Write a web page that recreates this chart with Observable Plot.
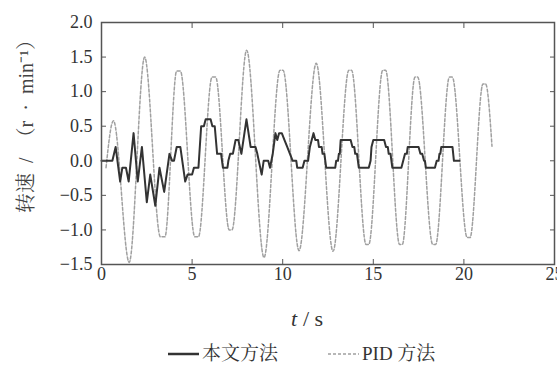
<!DOCTYPE html>
<html><head><meta charset="utf-8">
<script src="https://cdn.jsdelivr.net/npm/d3@7"></script>
<script src="https://cdn.jsdelivr.net/npm/@observablehq/plot@0.6"></script>
<style>
body{margin:0;background:#fff;}
#chart{width:557px;height:365px;font-family:"Liberation Serif","Noto Serif CJK SC",serif;color:#333;}
#chart svg text{font-family:"Liberation Serif","Noto Serif CJK SC",serif;}
#legend{position:relative;height:29px;font-size:19px;line-height:29px;color:#333;}
#legend .item{position:absolute;top:3px;display:flex;align-items:center;white-space:nowrap;}
#legend svg{display:block;margin-right:3px;}
</style></head><body><div id="chart"></div><script>
// PID method (dashed) — time (s) and speed (r/min)
const pidT = [0.25,0.66,1.53,2.38,3.25,3.5,4.15,4.35,5.15,5.35,6.1,6.3,7.05,7.2,8.01,8.97,9.85,10.02,10.9,11.85,12.78,13.65,13.8,14.6,14.75,15.52,15.68,16.45,16.6,17.3,17.45,18.28,18.44,19.2,19.36,20.18,20.34,21.05,21.2,21.55];
const pidV = [-0.1,0.58,-1.47,1.5,-1.1,-1.1,1.3,1.3,-1.1,-1.1,1.21,1.21,-1.0,-1.0,1.6,-1.4,1.31,1.31,-1.3,1.41,-1.31,1.31,1.31,-1.21,-1.21,1.31,1.31,-1.21,-1.21,1.21,1.21,-1.21,-1.21,1.21,1.21,-1.11,-1.11,1.11,1.11,0.21];
// proposed method (solid staircase)
const ourT = [0,0.6,0.78,1.03,1.15,1.35,1.5,1.77,2.0,2.23,2.5,2.69,2.97,3.2,3.46,3.75,3.9,4.0,4.15,4.35,4.62,4.75,5.0,5.1,5.35,5.5,5.65,5.75,6.02,6.12,6.25,6.38,6.6,6.7,6.95,7.0,7.1,7.25,7.4,7.55,7.72,8.0,8.23,8.5,8.6,8.84,8.95,9.2,9.3,9.45,9.6,9.7,9.8,9.95,10.1,10.25,10.4,10.55,10.75,10.8,11.1,11.2,11.4,11.5,11.7,11.8,11.95,12.0,12.15,12.2,12.3,12.4,12.9,12.95,13.05,13.1,13.15,13.2,13.75,13.85,13.95,14.0,14.1,14.2,14.75,14.85,14.9,15.0,15.6,15.7,15.8,15.85,15.95,16.05,16.55,16.65,16.75,16.85,16.9,17.5,17.6,17.7,17.8,17.85,17.9,18.4,18.5,18.6,18.65,18.7,18.75,19.37,19.45,19.75];
const ourV = [0,0,0.2,-0.3,-0.1,-0.1,-0.3,0.4,-0.3,0.2,-0.6,-0.2,-0.65,-0.1,-0.45,0.1,0,0,0.2,0.2,-0.3,-0.2,-0.2,-0.1,-0.1,0.5,0.5,0.6,0.6,0.5,0.5,0.1,0.1,-0.1,-0.1,0,0.1,0.1,0.3,0.3,0.1,0.6,0.2,0.2,0.1,-0.2,0,0,-0.1,0.1,0.4,0.3,0.4,0.4,0.3,0.2,0.1,0,0,-0.1,-0.1,0,0,0.2,0.4,0.3,0.3,0.2,0.2,0.1,0.1,-0.1,-0.1,0,0,0.1,0.1,0.3,0.3,0.2,0.2,0.1,0.1,-0.1,-0.1,0,0.2,0.3,0.3,0.2,0.2,0.1,0.1,-0.1,-0.1,0,0.1,0.1,0.2,0.2,0.1,0.1,0,0,-0.1,-0.1,0,0,0.1,0.1,0.2,0.2,0,0];
const xTicks = [0,5,10,15,20,25];
const yTicks = [-1.5,-1,-0.5,0,0.5,1,1.5,2];
const seriesNames = ["本文方法","PID 方法"];
const yLabel = "转速\u2002/\u2002（r\u2002·\u2002min⁻¹）";
const xLabelVar = "t";
const xLabelUnit = "/ s";

const pid = pidT.map((t,i)=>({t, v:pidV[i]}));
const our = ourT.map((t,i)=>({t, v:ourV[i]}));

const plot = Plot.plot({
  width:557, height:336,
  marginLeft:101, marginRight:3, marginTop:22, marginBottom:72,
  style:{fontSize:"18px", color:"#333", background:"transparent"},
  x:{domain:[0,25]},
  y:{domain:[-1.5,2]},
  marks:[
    Plot.line(pid,{x:"t",y:"v",stroke:"#a0a0a0",strokeWidth:1.5,strokeDasharray:"3,2",curve:"monotone-x"}),
    Plot.line(our,{x:"t",y:"v",stroke:"#333",strokeWidth:2}),
    Plot.frame({stroke:"#555",strokeWidth:1.5}),
    Plot.axisX(xTicks,{anchor:"bottom",tickSize:-5,tickPadding:8,tickFormat:d3.format("d"),label:null,stroke:"#555",fill:"#333"}),
    Plot.axisX(xTicks,{anchor:"top",tickSize:-5,tickFormat:()=>"",label:null,stroke:"#555"}),
    Plot.axisY(yTicks,{anchor:"left",tickSize:-5,tickPadding:14,tickFormat:d3.format(".1f"),label:null,stroke:"#555",fill:"#333"}),
    Plot.axisY(yTicks,{anchor:"right",tickSize:-5,tickFormat:()=>"",label:null,stroke:"#555"}),
    Plot.text([yLabel],{text:d=>d,frameAnchor:"left",textAnchor:"middle",lineAnchor:"middle",rotate:-90,dx:-75,dy:-22,fontSize:20,fill:"#444"}),
    Plot.text([xLabelVar],{text:d=>d,frameAnchor:"bottom",textAnchor:"start",lineAnchor:"bottom",dx:-37,dy:61,fontSize:22,fontStyle:"italic",fill:"#333"}),
    Plot.text([xLabelUnit],{text:d=>d,frameAnchor:"bottom",textAnchor:"start",lineAnchor:"bottom",dx:-25,dy:61,fontSize:22,fill:"#333"})
  ]
});
const chart = document.getElementById("chart");
chart.appendChild(plot);

const legend = document.createElement("div");
legend.id = "legend";
const lefts = [168, 328];
const strokes = [["#333",2.5,null],["#a0a0a0",1.5,"3,2"]];
seriesNames.forEach((name,i)=>{
  const item = document.createElement("div");
  item.className = "item";
  item.style.left = lefts[i]+"px";
  const [c,w,da] = strokes[i];
  item.innerHTML = `<svg width="31" height="10"><line x1="0" x2="31" y1="5" y2="5" stroke="${c}" stroke-width="${w}" ${da?`stroke-dasharray="${da}"`:""}/></svg><span>${name}</span>`;
  legend.appendChild(item);
});
chart.appendChild(legend);
</script></body></html>
